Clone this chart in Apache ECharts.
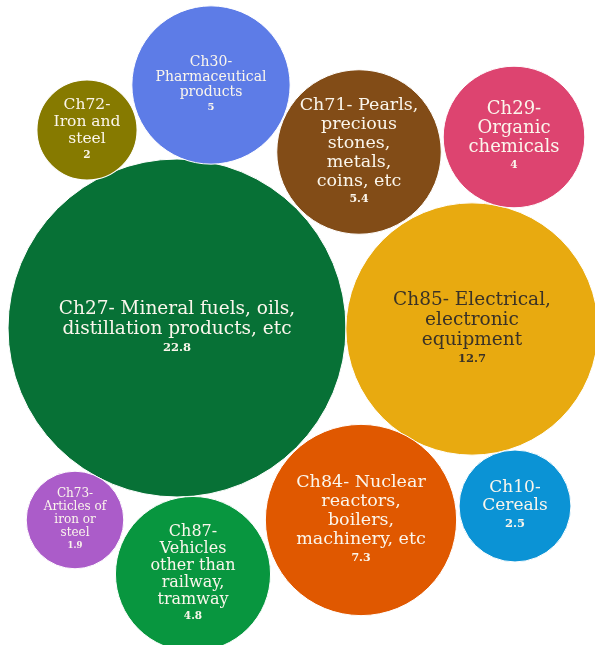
<!DOCTYPE html>
<html lang="en">
<head>
<meta charset="UTF-8">
<title>Packed bubbles</title>
<script src="https://cdn.jsdelivr.net/npm/echarts@6/dist/echarts.min.js"></script>
<style>
    body { margin: 0; background: #fff; }
    #main { width: 595px; height: 645px; }
</style>
</head>
<body>
<div id="main"></div>
<script type="text/javascript">
    // chapter labels (line breaks as they wrap in the picture)
    var names = [
        'Ch27- Mineral fuels, oils,\ndistillation products, etc',
        'Ch85- Electrical,\nelectronic\nequipment',
        'Ch84- Nuclear\nreactors,\nboilers,\nmachinery, etc',
        'Ch71- Pearls,\nprecious\nstones,\nmetals,\ncoins, etc',
        'Ch30-\nPharmaceutical\nproducts',
        'Ch87-\nVehicles\nother than\nrailway,\ntramway',
        'Ch29-\nOrganic\nchemicals',
        'Ch10-\nCereals',
        'Ch72-\nIron and\nsteel',
        'Ch73-\nArticles of\niron or\nsteel'
    ];
    var values = [22.8, 12.7, 7.3, 5.4, 5, 4.8, 4, 2.5, 2, 1.9];
    // bubble centres
    var posX = [177, 472, 361, 359, 211, 193, 514, 515, 87, 75];
    var posY = [328, 329, 520, 152, 85, 574, 137, 506, 130, 520];
    var colors = ['#077136', '#e8aa10', '#e05800', '#824c17', '#5d7ce7',
                  '#08963f', '#dd4470', '#0b93d5', '#867a00', '#ab5cc9'];

    var nameSize = [18.5, 18.5, 17.5, 17.5, 14, 16, 18, 17, 15.5, 12];
    var valSize = [11.5, 11.5, 11, 11, 10, 10.5, 10.5, 11.5, 10.5, 8.5];

    var maxR = 169;
    var maxV = Math.max.apply(null, values);

    var data = values.map(function (v, i) {
        var txt = i === 1 ? '#3a3226' : '#fbf6ec';
        return {
            name: names[i],
            value: [posX[i], posY[i], v],
            itemStyle: { color: colors[i] },
            label: {
                rich: {
                    n: { fontFamily: 'DejaVu Serif', fontSize: nameSize[i], lineHeight: Math.round(nameSize[i] * 1.08), color: txt, align: 'center' },
                    v: { fontFamily: 'DejaVu Serif', fontSize: valSize[i], fontWeight: 'bold', lineHeight: Math.round(valSize[i] * 1.6), color: txt, align: 'center' }
                }
            }
        };
    });

    var myChart = echarts.init(document.getElementById('main'));

    var option = {
        animation: false,
        grid: { left: 0, right: 0, top: 0, bottom: 0 },
        xAxis: { type: 'value', min: 0, max: 595, show: false },
        yAxis: { type: 'value', min: 0, max: 645, inverse: true, show: false },
        series: [{
            type: 'scatter',
            symbol: 'circle',
            symbolSize: function (val) {
                return 2 * maxR * Math.sqrt(val[2] / maxV);
            },
            itemStyle: { borderColor: '#fff', borderWidth: 1, opacity: 1 },
            label: {
                show: true,
                position: 'inside',
                formatter: function (p) {
                    return '{n|' + p.name + '}\n{v|' + p.value[2] + '}';
                }
            },
            emphasis: { disabled: true },
            data: data
        }]
    };

    myChart.setOption(option);
</script>
</body>
</html>
